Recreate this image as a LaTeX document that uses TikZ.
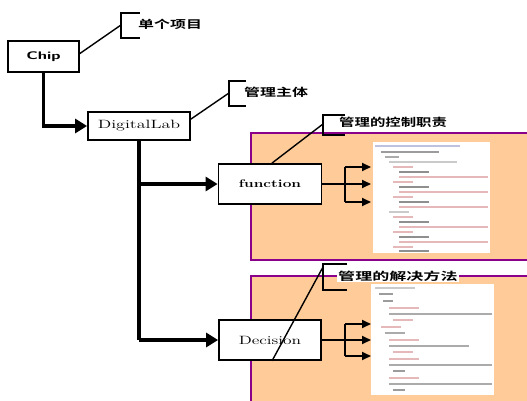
\documentclass[tikz,border=0pt]{standalone}
\usepackage{fontspec}
\newfontfamily\cjk{Noto Sans CJK SC}[BoldFont={Noto Sans CJK SC Bold}]
\usetikzlibrary{arrows.meta,calc}
\definecolor{peach}{HTML}{FFCC99}
\definecolor{panelborder}{HTML}{8B008B}
\definecolor{codeblue}{HTML}{8A8FC8}
\definecolor{codered}{HTML}{D08080}
\definecolor{codegray}{HTML}{A0A0A0}
\newcommand{\wide}[2]{\scalebox{#1}[1]{#2}}
\tikzset{
  box/.style={draw=black, line width=1.8pt, fill=white, minimum width=#1, minimum height=30pt, inner sep=0pt},
  panel/.style={draw=panelborder, line width=1.6pt, fill=peach},
  callout/.style={anchor=west, font=\cjk\bfseries\fontsize{11}{12}\selectfont, fill=white, inner sep=1pt},
  bigarrow/.style={line width=3.5pt, -{Triangle[length=12pt,width=14pt]}},
  smallarrow/.style={line width=1.8pt, -{Triangle[length=9pt,width=8pt]}},
  thinline/.style={line width=1.4pt},
  shot/.style={fill=white, draw=none},
}
\begin{document}
\begin{tikzpicture}[x=1pt,y=-1pt]
\useasboundingbox (0,0) rectangle (527,401);
% panels
\draw[panel] (251,133) rectangle (540,260);
\draw[panel] (251,276) rectangle (540,410);
% screenshots
\node[shot, minimum width=117pt, minimum height=111pt, inner sep=0pt, anchor=north west] (s1) at (373,142) {};
\node[shot, minimum width=123pt, minimum height=111pt, inner sep=0pt, anchor=north west] (s2) at (371,284) {};
% code mimic in screenshot 1
\foreach \ind/\y/\len/\col in {
  2/145/85/codeblue, 8/151/58/black!70, 12/156/14/black!60, 16/161/68/codegray,
  20/166/20/codered, 26/171/30/black!80, 26/176/90/codered, 20/181/20/codered,
  26/186/30/black!80, 26/191/90/codered, 20/196/20/codered, 26/201/30/black!80,
  26/206/90/codered, 16/211/20/codegray, 20/216/20/codered, 26/221/30/black!80,
  26/226/90/codered, 20/231/20/codered, 26/236/30/black!80, 26/241/90/codered,
  20/246/20/codered, 26/250/30/black!80}
  \fill[\col, opacity=0.55] (373+\ind,\y) rectangle ++({min(\len,115-\ind)},2.2);
% code mimic in screenshot 2
\foreach \ind/\y/\len/\col in {
  4/287/40/codegray, 8/293/14/black!70, 12/300/10/black!70, 18/307/30/codered,
  18/313/110/black!60, 22/319/20/codered, 10/326/20/codered, 14/332/20/black!60,
  18/339/30/codered, 18/345/80/black!60, 22/351/20/codered, 18/358/30/codered,
  18/364/110/black!60, 22/370/12/black!70, 18/377/30/codered, 18/383/110/black!60,
  22/389/12/black!70}
  \fill[\col, opacity=0.55] (371+\ind,\y) rectangle ++({min(\len,121-\ind)},2.2);
% main boxes
\node[box=71pt, minimum height=31pt, font=\sffamily\bfseries\fontsize{11}{12}\selectfont] (chip) at (43.5,56.5) {\wide{1.5}{Chip}};
\node[box=102pt, minimum height=28pt, font=\fontsize{12}{13}\selectfont] (dl) at (139,126) {\wide{1.5}{DigitalLab}};
\node[box=103pt, minimum height=40pt, font=\bfseries\fontsize{11}{12}\selectfont] (fn) at (270,184) {\wide{1.4}{function}};
\node[box=102pt, minimum height=40pt, font=\fontsize{12}{13}\selectfont] (dec) at (270,340) {\wide{1.45}{Decision}};
% callout texts
\node[callout] (t1) at (137,24) {\wide{1.45}{单个项目}};
\node[callout] (t2) at (243,92) {\wide{1.45}{管理主体}};
\node[callout] (t3) at (338,122) {\wide{1.4}{管理的控制职责}};
\node[callout] (t4) at (337,276) {\wide{1.55}{管理的解决方法}};
% brackets
\coordinate (b1) at (121,25);
\coordinate (b2) at (229,93);
\coordinate (b3) at (323,124);
\coordinate (b4) at (323,267);
\draw[thinline] (140,13) -- (121,13) -- (121,38) -- (140,38);
\draw[thinline] (246,81) -- (229,81) -- (229,106) -- (246,106);
\draw[thinline] (345,115) -- (323,115) -- (323,135) -- (345,135);
\draw[thinline] (347,264) -- (323,264) -- (323,290) -- (347,290);
% callout leaders
\draw[thinline] ($(chip.east)+(0,-3)$) -- (b1);
\draw[thinline] ($(dl.north east)+(0,8)$) -- (b2);
\draw[thinline] ($(fn.north)+(2,0)$) -- (b3);
\draw[thinline] ($(dec.south)+(2,0)$) -- (b4);
% thick connectors
\draw[bigarrow] (chip.south) |- (dl.west);
\draw[line width=3.5pt] (dl.south) -- (dec.west -| dl.south);
\draw[bigarrow] (fn.west -| dl.south) -- (fn.west);
\draw[bigarrow] (dec.west -| dl.south) -- (dec.west);
% small arrows from function
\coordinate (fj) at (345,184);
\draw[line width=1.8pt] (fn.east) -- (fj);
\draw[line width=1.8pt] (345,167) -- (345,202);
\draw[smallarrow] (345,167) -- (371,167);
\draw[smallarrow] (fj) -- (371,184);
\draw[smallarrow] (345,202) -- (371,202);
% small arrows from decision
\coordinate (dj) at (345,340);
\draw[line width=1.8pt] (dec.east) -- (dj);
\draw[line width=1.8pt] (345,324) -- (345,356);
\draw[smallarrow] (345,324) -- (371,324);
\draw[smallarrow] (dj) -- (371,340);
\draw[smallarrow] (345,356) -- (371,356);
\end{tikzpicture}
\end{document}
